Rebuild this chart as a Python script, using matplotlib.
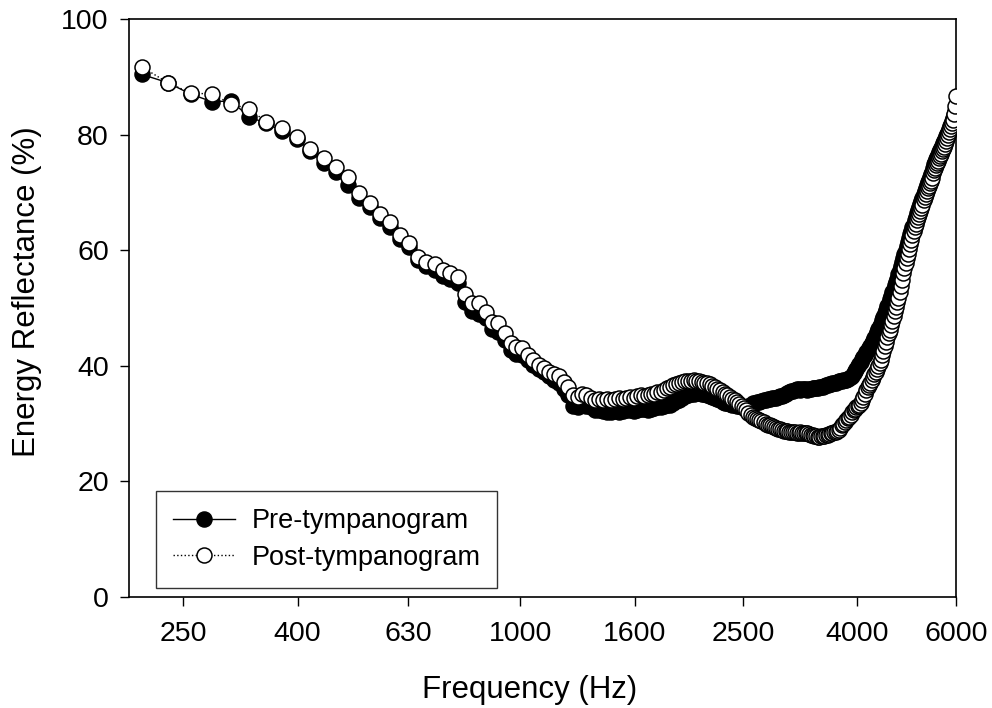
import matplotlib
matplotlib.use("Agg")
import matplotlib.pyplot as plt
from matplotlib.ticker import FixedLocator, FixedFormatter, NullLocator
import numpy as np

plt.rcParams['font.family'] = ['Liberation Sans', 'DejaVu Sans']

# Frequency bins (Hz): 23.4375 Hz resolution, bins 9..256
bin_index = list(range(9, 257))
bin_width_hz = 23.4375
frequency = [k * bin_width_hz for k in bin_index]

pre_tymp = [
    90.4, 89.0, 87.0, 85.7, 85.8, 83.0, 82.0, 80.6, 79.3, 77.2,   # 9-18
    75.0, 73.5, 71.3, 69.0, 67.5, 65.5, 64.0, 62.0, 60.5, 58.3,   # 19-28
    57.2, 56.5, 55.5, 55.0, 54.3, 51.0, 49.5, 49.0, 48.2, 46.3,   # 29-38
    45.8, 44.5, 42.8, 42.0, 41.8, 41.0, 40.2, 39.4, 38.9, 38.2,   # 39-48
    37.6, 37.0, 36.0, 35.0, 33.0, 32.8, 33.5, 33.0, 32.8, 32.4,   # 49-58
    32.3, 32.2, 32.0, 32.0, 32.1, 32.0, 32.2, 32.3, 32.3, 32.1,   # 59-68
    32.4, 32.5, 32.5, 32.3, 32.6, 32.7, 32.8, 32.8, 33.0, 33.2,   # 69-78
    33.3, 33.6, 33.9, 34.1, 34.4, 34.7, 34.9, 35.1, 35.2, 35.3,   # 79-88
    35.3, 35.2, 35.1, 35.0, 34.8, 34.6, 34.4, 34.2, 34.0, 33.8,   # 89-98
    33.6, 33.5, 33.4, 33.3, 33.3, 33.1, 33.0, 32.9, 32.8, 32.9,   # 99-108
    33.1, 33.3, 33.5, 33.6, 33.7, 33.8, 33.9, 34.0, 34.1, 34.2,   # 109-118
    34.3, 34.4, 34.4, 34.5, 34.6, 34.7, 34.8, 35.0, 35.2, 35.3,   # 119-128
    35.4, 35.6, 35.7, 35.8, 35.9, 35.9, 35.8, 35.9, 36.0, 35.9,   # 129-138
    35.8, 35.9, 36.0, 36.1, 36.1, 36.2, 36.2, 36.3, 36.3, 36.4,   # 139-148
    36.5, 36.6, 36.7, 36.8, 36.9, 37.0, 37.0, 37.1, 37.2, 37.3,   # 149-158
    37.3, 37.4, 37.5, 37.6, 37.6, 37.7, 37.8, 38.0, 38.3, 38.7,   # 159-168
    39.1, 39.5, 39.9, 40.3, 40.7, 41.1, 41.5, 41.9, 42.3, 42.7,   # 169-178
    43.1, 43.5, 43.9, 44.3, 44.8, 45.3, 45.8, 46.3, 46.8, 47.3,   # 179-188
    47.9, 48.5, 49.1, 49.7, 50.3, 50.9, 51.5, 52.1, 52.7, 53.3,   # 189-198
    53.9, 54.5, 55.1, 55.8, 56.5, 57.2, 57.9, 58.6, 59.3, 60.0,   # 199-208
    60.7, 61.4, 62.1, 62.8, 63.4, 64.0, 64.6, 65.2, 65.8, 66.4,   # 209-218
    66.9, 67.5, 68.0, 68.5, 69.1, 69.7, 70.3, 70.8, 71.3, 71.8,   # 219-228
    72.2, 72.6, 73.1, 73.6, 74.3, 74.9, 75.3, 75.7, 76.1, 76.5,   # 229-238
    76.9, 77.3, 77.7, 78.1, 78.5, 78.9, 79.3, 79.7, 80.1, 80.5,   # 239-248
    81.0, 81.4, 81.8, 82.3, 82.8, 83.4, 84.0, 84.6,               # 249-256
]

post_tymp = [
    91.7, 89.0, 87.2, 87.0, 85.3, 84.4, 82.2, 81.1, 79.6, 77.5,   # 9-18
    75.9, 74.4, 72.7, 69.9, 68.2, 66.3, 64.9, 62.6, 61.2, 58.8,   # 19-28
    58.0, 57.6, 56.6, 56.1, 55.4, 52.4, 50.9, 50.9, 49.3, 47.6,   # 29-38
    47.4, 45.7, 43.9, 43.3, 43.1, 41.9, 41.0, 40.1, 39.6, 38.9,   # 39-48
    38.6, 38.2, 37.2, 36.3, 34.9, 34.6, 35.2, 34.9, 34.5, 34.1,   # 49-58
    34.3, 34.0, 34.2, 34.1, 34.3, 34.4, 34.2, 34.5, 34.6, 34.4,   # 59-68
    34.7, 34.9, 34.8, 35.0, 35.2, 35.1, 35.4, 35.5, 35.8, 36.1,   # 69-78
    36.3, 36.6, 36.9, 37.1, 37.2, 37.3, 37.3, 37.4, 37.5, 37.4,   # 79-88
    37.3, 37.2, 37.1, 37.0, 36.8, 36.5, 36.3, 36.0, 35.8, 35.5,   # 89-98
    35.2, 34.9, 34.6, 34.3, 34.1, 33.7, 33.4, 33.0, 32.7, 32.3,   # 99-108
    31.9, 31.5, 31.2, 31.0, 30.8, 30.6, 30.4, 30.2, 30.0, 29.8,   # 109-118
    29.7, 29.5, 29.4, 29.2, 29.1, 29.0, 28.9, 28.8, 28.7, 28.7,   # 119-128
    28.6, 28.6, 28.5, 28.5, 28.4, 28.4, 28.5, 28.4, 28.3, 28.4,   # 129-138
    28.4, 28.2, 28.1, 28.0, 27.9, 27.8, 27.7, 27.7, 27.8, 27.8,   # 139-148
    27.9, 28.0, 28.1, 28.2, 28.3, 28.4, 28.5, 28.6, 28.8, 28.9,   # 149-158
    29.3, 29.7, 30.0, 30.3, 30.6, 30.9, 31.1, 31.5, 32.0, 32.4,   # 159-168
    32.6, 32.8, 33.0, 33.2, 33.5, 34.0, 34.6, 35.2, 35.8, 36.3,   # 169-178
    36.7, 37.0, 37.5, 38.0, 38.5, 39.0, 39.5, 40.0, 40.5, 41.0,   # 179-188
    41.8, 42.6, 43.4, 44.2, 45.0, 45.7, 46.2, 47.0, 47.8, 48.6,   # 189-198
    49.4, 50.2, 51.0, 51.7, 52.8, 53.8, 54.9, 56.0, 57.0, 57.8,   # 199-208
    58.6, 59.4, 60.2, 61.0, 61.8, 62.6, 63.3, 64.0, 64.6, 65.2,   # 209-218
    65.7, 66.3, 66.8, 67.3, 67.9, 68.6, 69.2, 69.7, 70.2, 70.7,   # 219-228
    71.1, 71.6, 72.0, 72.5, 73.3, 73.9, 74.3, 74.7, 75.1, 75.5,   # 229-238
    75.9, 76.3, 76.7, 77.1, 77.5, 77.9, 78.4, 78.9, 79.4, 79.9,   # 239-248
    80.4, 80.9, 81.4, 82.0, 82.5, 83.6, 85.0, 86.6,               # 249-256
]

x_ticks = [250, 400, 630, 1000, 1600, 2500, 4000, 6000]
x_tick_labels = ["250", "400", "630", "1000", "1600", "2500", "4000", "6000"]
y_ticks = [0, 20, 40, 60, 80, 100]

fig = plt.figure(figsize=(9.92, 7.08), dpi=100)
ax = fig.add_axes([0.130, 0.1568, 0.8337, 0.8164])

ax.plot(frequency, pre_tymp, linestyle='-', color='black', linewidth=1.0,
        marker='o', markersize=10.8, markerfacecolor='black',
        markeredgecolor='black', markeredgewidth=1.1,
        label='Pre-tympanogram', zorder=2)
ax.plot(frequency, post_tymp, linestyle=':', color='black', linewidth=1.0,
        marker='o', markersize=10.8, markerfacecolor='white',
        markeredgecolor='black', markeredgewidth=1.1,
        label='Post-tympanogram', zorder=3)

ax.set_xscale('log')
ax.set_xlim(200, 6000)
ax.set_ylim(0, 100)
ax.xaxis.set_major_locator(FixedLocator(x_ticks))
ax.xaxis.set_major_formatter(FixedFormatter(x_tick_labels))
ax.xaxis.set_minor_locator(NullLocator())
ax.set_yticks(y_ticks)

ax.tick_params(axis='both', which='major', direction='out', length=6.5,
               width=1.0, labelsize=20.5, colors='black')
ax.tick_params(axis='x', pad=11)
ax.tick_params(axis='y', pad=8)
for sp in ax.spines.values():
    sp.set_linewidth(1.2)
    sp.set_color('black')

ax.set_xlabel('Frequency (Hz)', fontsize=22.5)
ax.set_ylabel('Energy Reflectance (%)', fontsize=22.5)
ax.xaxis.label.set_va('center')
ax.yaxis.label.set_va('center')
ax.xaxis.set_label_coords(0.484, -0.161)
ax.yaxis.set_label_coords(-0.123, 0.528)

leg = ax.legend(loc='lower left', bbox_to_anchor=(0.033, 0.016),
                borderaxespad=0, fontsize=19.5, frameon=True, fancybox=False,
                edgecolor='black', handlelength=2.3, handletextpad=0.6,
                borderpad=0.62, labelspacing=0.4)
leg.get_frame().set_linewidth(1.0)

fig.savefig('out.png', dpi=100)
